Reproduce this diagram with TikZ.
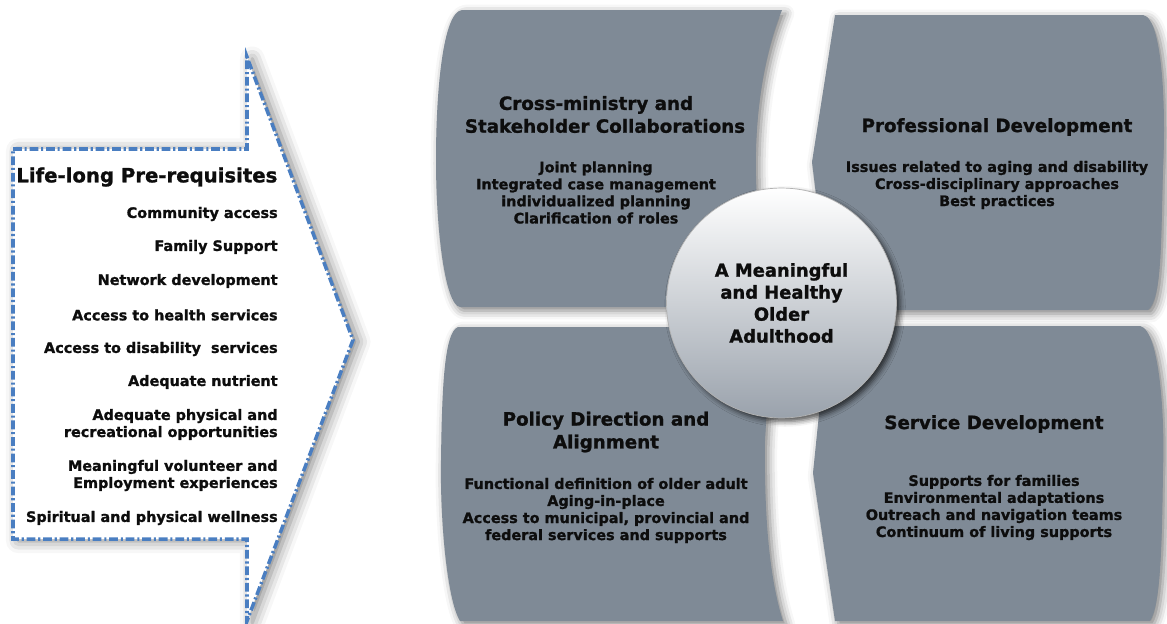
\documentclass[tikz,border=0pt]{standalone}
\usepackage{fontspec}
\setmainfont{DejaVu Sans}[BoldFeatures={FakeBold=1.2}]
\usetikzlibrary{shadows.blur}

\begin{document}
\begin{tikzpicture}[x=0.02cm,y=-0.02cm]
    % Define colours
    \definecolor{borderColour}{HTML}{4A7EC1}
    \definecolor{panelColour}{HTML}{7F8A96}
    \definecolor{hubColour}{HTML}{9AA2AC}
    \definecolor{textColour}{HTML}{0D0D0D}

    % Define text sizes
    \def\headFont{\fontsize{10.4}{13}\selectfont\bfseries}
    \def\itemFont{\fontsize{8.2}{9.7}\selectfont\bfseries}

    \tikzset{
        panel/.style={fill=panelColour, blur shadow={shadow xshift=2pt, shadow yshift=-2pt, shadow blur radius=5pt, shadow opacity=50}},
        head/.style={align=center, text=textColour, font=\headFont, inner sep=0pt},
        items/.style={align=center, text=textColour, font=\itemFont, inner sep=0pt},
        need/.style={align=right, anchor=east, text=textColour, font=\itemFont, inner sep=0pt}
    }

    \useasboundingbox (0,0) rectangle (1167,623);

    % Define the vertices of the arrow
    \coordinate (A) at (13,149);
    \coordinate (B) at (247,149);
    \coordinate (C) at (247,57);
    \coordinate (D) at (353,340);
    \coordinate (E) at (247,621);
    \coordinate (F) at (247,539);
    \coordinate (G) at (13,539);

    % Draw the arrow
    \filldraw[fill=white, draw=borderColour, line width=2pt,
        dash pattern=on 5pt off 1.6pt on 1.2pt off 1.6pt,
        blur shadow={shadow xshift=3pt, shadow yshift=-1pt, shadow blur radius=7pt, shadow opacity=50}]
        (A) -- (B) -- (C) -- (D) -- (E) -- (F) -- (G) -- cycle;

    % Label the arrow
    \node[anchor=west, text=textColour, font=\fontsize{11.2}{13}\selectfont\bfseries, inner sep=0pt] (needTitle) at (16,177) {Life-long Pre-requisites};
    \foreach \y/\txt [count=\i] in {214/Community access, 247/Family Support, 281/Network development,
        315/Access to health services, 349/Access to disability~ services, 382/Adequate nutrient,
        424.5/{Adequate physical and\\recreational opportunities},
        475.5/{Meaningful volunteer and\\Employment experiences},
        518/Spiritual and physical wellness}
        \node[need] (need\i) at (278,\y) {\txt};

    % Draw the four panels
    \fill[panel] (462,10) -- (782,10) .. controls (764,55) and (752,120) .. (757,200)
        -- (772,307) -- (460,307) .. controls (445,305) and (436,230) .. (436,160)
        .. controls (436,90) and (443,12) .. (462,10) -- cycle;
    \fill[panel] (835,15) -- (1143,15) .. controls (1163,18) and (1166,110) .. (1163,170)
        .. controls (1161,240) and (1162,300) .. (1148,310) -- (830,310) -- (812,162) -- cycle;
    \fill[panel] (458,327) -- (772,327) -- (765,440) .. controls (764,520) and (770,580) .. (783,621)
        -- (460,621) .. controls (447,600) and (440,520) .. (441,460)
        .. controls (442,390) and (444,332) .. (458,327) -- cycle;
    \fill[panel] (828,326) -- (1140,326) .. controls (1160,330) and (1165,420) .. (1163,470)
        .. controls (1162,540) and (1161,605) .. (1150,621) -- (835,621) -- (813,473) -- cycle;

    % Label the panels
    \node[head] (collabHead) at (605,114.5) {Cross-ministry and\hspace*{0.36cm}\\Stakeholder Collaborations};
    \node[items] (collabList) at (596,192.5) {Joint planning\\Integrated case management\\individualized planning\\Clarification of roles};
    \node[head] (profHead) at (997,127) {Professional Development};
    \node[items] (profList) at (997,185) {Issues related to aging and disability\\Cross-disciplinary approaches\\Best practices};
    \node[head] (policyHead) at (606,432) {Policy Direction and\\Alignment};
    \node[items] (policyList) at (606,510.5) {Functional definition of older adult\\Aging-in-place\\Access to municipal, provincial and\\federal services and supports};
    \node[head] (serviceHead) at (994,424) {Service Development};
    \node[items] (serviceList) at (994,507.5) {Supports for families\\Environmental adaptations\\Outreach and navigation teams\\Continuum of living supports};

    % Draw the centre circle
    \node[circle, minimum size=4.6cm, draw=gray!60, thin, top color=white, bottom color=hubColour,
        blur shadow={shadow xshift=2pt, shadow yshift=-2pt, shadow blur radius=3pt, shadow opacity=70},
        head, font=\fontsize{10.2}{12.5}\selectfont\bfseries] (hub) at (781.5,303)
        {A Meaningful\\and Healthy\\Older\\Adulthood};

\end{tikzpicture}
\end{document}
